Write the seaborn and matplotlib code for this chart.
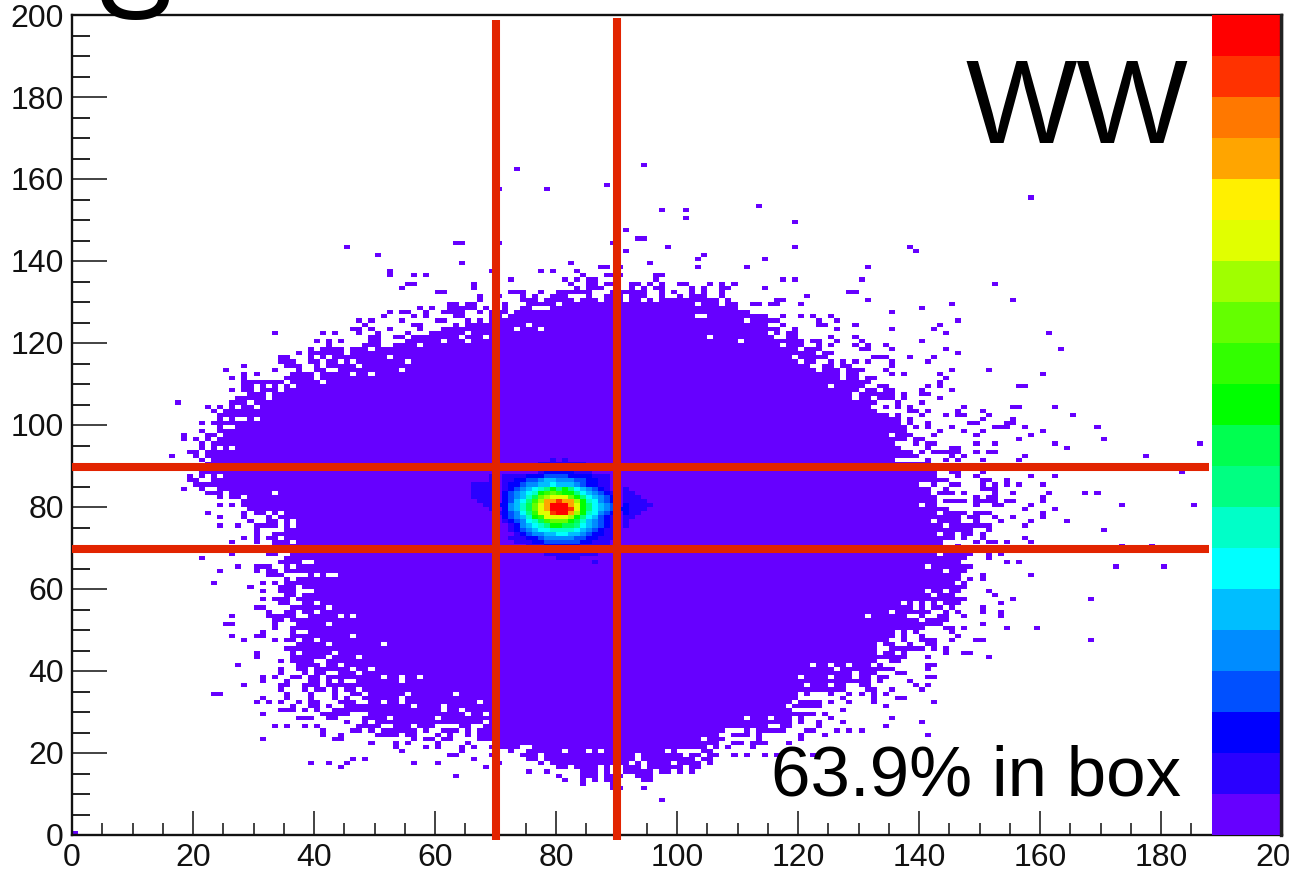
import numpy as np
import pandas as pd
import seaborn as sns
import matplotlib.pyplot as plt
from matplotlib.colors import ListedColormap
from matplotlib.patches import Rectangle
from matplotlib.ticker import MultipleLocator

W, H = 1299, 881

# colz palette, bottom band to top band
band_colors = ['#6600ff', '#2a00ff', '#0000ff', '#0050ff', '#008cff', '#00beff', '#00ffff',
               '#00ffc8', '#00ff82', '#00ff50', '#00ff00', '#32ff00', '#64ff00', '#a0ff00',
               '#e1ff00', '#fff000', '#ffa500', '#ff7800', '#ff3200', '#ff0000']
band_ticks = [4.16, 7.77, 11.38, 14.99, 18.62]

# solid part of the blob, one entry per y bin, from y=125 down to y=22
body_rows = list(range(125, 21, -1))
body_left = [67, 65, 61, 66, 65, 62, 58, 50, 50, 41,
             42, 42, 44, 41, 41, 42, 37, 35, 33, 33,
             30, 31, 25, 24, 24, 23, 27, 24, 25, 24,
             23, 27, 22, 22, 23, 22, 22, 21, 25, 23,
             20, 24, 26, 26, 28, 28, 29, 30, 32, 32,
             30, 35, 33, 32, 33, 33, 34, 36, 35, 34,
             35, 35, 39, 35, 35, 34, 36, 38, 37, 38,
             36, 35, 39, 36, 40, 40, 39, 36, 35, 37,
             35, 36, 36, 42, 42, 40, 40, 42, 42, 42,
             45, 46, 48, 49, 45, 43, 49, 48, 48, 68,
             67, 67, 67, 70]
body_right = [116, 114, 116, 116, 115, 120, 120, 119, 122, 124,
              122, 121, 122, 126, 126, 131, 130, 129, 128, 128,
              132, 131, 132, 134, 136, 136, 137, 137, 138, 137,
              135, 136, 138, 139, 135, 141, 141, 142, 142, 144,
              142, 141, 145, 142, 142, 142, 144, 147, 146, 146,
              151, 148, 145, 145, 143, 143, 143, 148, 147, 146,
              148, 147, 146, 146, 145, 147, 146, 145, 147, 146,
              143, 141, 140, 144, 143, 140, 135, 135, 134, 132,
              132, 132, 133, 132, 133, 135, 128, 128, 128, 120,
              127, 119, 119, 118, 117, 118, 113, 110, 112, 108,
              107, 105, 103, 106]

# loose cells around the blob as (y, first x, last x)
top_runs = [(163, 94, 94), (162, 73, 73), (158, 88, 88), (157, 78, 78), (157, 70, 70), (152, 97, 97),
            (152, 101, 101), (150, 101, 101), (147, 91, 91), (145, 93, 94), (144, 63, 64), (144, 70, 70),
            (144, 89, 89), (143, 98, 98), (143, 45, 45), (142, 91, 91), (141, 50, 50), (141, 104, 104),
            (140, 103, 103), (139, 64, 64), (139, 82, 82), (139, 95, 95), (138, 87, 88), (138, 90, 90),
            (138, 103, 103), (137, 52, 52), (136, 52, 52), (137, 69, 69), (137, 77, 77), (137, 79, 79),
            (137, 83, 83), (136, 56, 56), (136, 58, 58), (136, 84, 84), (136, 88, 90), (136, 96, 97),
            (135, 72, 72), (135, 81, 81), (135, 83, 83), (135, 85, 86), (135, 96, 96), (134, 55, 56),
            (134, 66, 66), (134, 82, 82), (134, 85, 86), (134, 88, 89), (134, 92, 93), (134, 95, 95),
            (134, 97, 97), (134, 100, 101), (134, 105, 105), (134, 107, 107), (134, 109, 109),
            (133, 54, 54), (133, 66, 66), (133, 83, 83), (133, 85, 87), (133, 92, 92), (133, 94, 94),
            (133, 96, 97), (133, 102, 102), (133, 104, 104), (133, 107, 108),
            (132, 60, 61), (132, 72, 74), (132, 77, 77), (132, 80, 85), (132, 89, 94), (132, 97, 97),
            (132, 99, 99), (132, 102, 102), (132, 104, 104), (132, 107, 107),
            (131, 67, 67), (131, 70, 70), (131, 74, 74), (131, 76, 76), (131, 79, 81), (131, 85, 85),
            (131, 88, 90), (131, 92, 94), (131, 97, 97), (131, 100, 100), (131, 102, 104), (131, 107, 107),
            (130, 67, 67), (130, 74, 76), (130, 78, 82), (130, 84, 86), (130, 88, 90), (130, 92, 93),
            (130, 95, 95), (130, 97, 106), (130, 108, 108),
            (129, 62, 63), (129, 65, 66), (129, 71, 71), (129, 75, 79), (129, 81, 102), (129, 104, 106),
            (129, 108, 109),
            (128, 57, 57), (128, 59, 59), (128, 62, 66), (128, 68, 68), (128, 71, 71), (128, 74, 75),
            (128, 79, 109),
            (127, 52, 52), (127, 54, 55), (127, 58, 58), (127, 61, 64), (127, 67, 67), (127, 69, 71),
            (127, 73, 110),
            (126, 51, 51), (126, 56, 56), (126, 58, 58), (126, 63, 64), (126, 69, 70), (126, 72, 102),
            (126, 105, 114)]

left_runs = [(125, 47, 47), (125, 49, 49), (125, 54, 54), (125, 60, 61), (125, 65, 65),
             (124, 48, 48), (124, 56, 57), (124, 63, 63), (123, 46, 47), (123, 49, 49), (123, 52, 52),
             (123, 57, 57), (122, 47, 47), (122, 50, 50), (122, 55, 55), (122, 59, 64), (122, 33, 33),
             (122, 41, 41), (122, 43, 43), (121, 49, 50), (121, 53, 54), (121, 56, 63), (120, 44, 44),
             (120, 49, 50), (120, 55, 60), (120, 40, 40), (120, 42, 42), (119, 42, 42), (119, 48, 50),
             (119, 53, 56), (118, 39, 39), (118, 41, 44), (118, 46, 48), (117, 37, 37), (117, 39, 44),
             (117, 46, 49), (116, 34, 35), (116, 39, 39), (115, 34, 36), (115, 39, 40), (114, 28, 28),
             (114, 35, 37), (114, 40, 40), (113, 25, 25), (113, 33, 33), (113, 37, 37), (113, 40, 41),
             (112, 28, 28), (112, 30, 30), (112, 36, 39), (111, 26, 26), (111, 28, 28), (111, 35, 39),
             (110, 28, 34), (110, 36, 40), (109, 28, 29), (109, 31, 31), (109, 33, 33), (109, 35, 35),
             (108, 26, 26), (108, 28, 29), (108, 31, 33), (107, 29, 31), (106, 27, 31), (105, 17, 17),
             (105, 26, 28), (104, 22, 22), (104, 24, 24), (104, 26, 26), (104, 28, 29), (103, 23, 23),
             (100, 21, 21), (99, 24, 24), (98, 21, 21), (97, 18, 18), (97, 22, 23), (96, 18, 18),
             (96, 20, 20), (96, 22, 22), (95, 21, 21), (94, 21, 21), (94, 23, 23), (94, 25, 25),
             (93, 19, 20), (92, 16, 16), (92, 20, 20), (91, 21, 21), (87, 19, 19), (87, 21, 21),
             (87, 23, 23), (86, 19, 20), (84, 18, 18), (84, 21, 21), (83, 22, 24), (82, 24, 24),
             (80, 24, 24), (80, 26, 26), (78, 22, 22), (78, 28, 28), (77, 24, 24), (77, 28, 28),
             (76, 29, 29), (75, 24, 24), (75, 27, 27), (74, 30, 30), (73, 30, 30), (72, 28, 28),
             (72, 30, 30), (71, 26, 26), (71, 30, 30), (68, 26, 26), (68, 32, 33), (67, 21, 21),
             (65, 27, 27), (65, 30, 32), (64, 24, 24), (64, 30, 30), (64, 32, 33), (63, 32, 34),
             (61, 23, 23), (61, 31, 31), (61, 33, 33), (60, 29, 29), (59, 31, 31), (59, 34, 35),
             (58, 35, 36), (57, 31, 31), (57, 33, 35), (56, 34, 35), (55, 30, 31), (54, 32, 32),
             (53, 26, 26), (53, 32, 36), (52, 33, 34), (51, 25, 26), (51, 33, 33), (51, 37, 39),
             (50, 33, 33), (50, 36, 39), (49, 31, 31), (49, 36, 36), (48, 26, 26), (48, 30, 31),
             (47, 28, 28), (47, 33, 33), (44, 30, 30), (43, 30, 30), (42, 34, 34), (42, 36, 39),
             (41, 27, 27), (41, 37, 40), (40, 34, 34), (40, 37, 38), (39, 34, 34), (39, 38, 38),
             (38, 31, 31), (38, 33, 33), (38, 36, 37), (38, 39, 40), (37, 31, 31), (37, 35, 35),
             (37, 39, 40), (36, 28, 28), (36, 34, 35), (36, 38, 40), (35, 34, 34), (35, 38, 38),
             (35, 40, 41), (35, 43, 43), (34, 23, 24), (34, 35, 35), (34, 39, 39), (34, 43, 43),
             (33, 31, 31), (33, 35, 35), (33, 39, 39), (33, 43, 43), (33, 45, 45), (32, 30, 30),
             (32, 32, 32), (32, 34, 34), (32, 37, 37), (32, 39, 40), (32, 44, 46), (31, 36, 36),
             (31, 39, 40), (31, 42, 42), (30, 34, 36), (30, 38, 38), (30, 40, 40), (29, 31, 31),
             (29, 41, 45), (28, 37, 39), (28, 42, 43), (27, 45, 45)]

bottom_runs = [(26, 33, 33), (26, 35, 35), (26, 38, 38), (26, 40, 40), (26, 47, 50), (26, 53, 55),
               (26, 57, 59), (26, 64, 65), (25, 41, 41), (25, 46, 47), (25, 49, 49), (25, 51, 56),
               (25, 58, 58), (25, 61, 63), (25, 65, 65), (24, 41, 41), (24, 44, 44), (24, 50, 53),
               (24, 55, 56), (24, 60, 60), (24, 62, 62), (24, 65, 65), (23, 31, 31), (23, 43, 44),
               (23, 56, 56), (23, 58, 59), (23, 61, 62), (22, 49, 49), (22, 53, 53), (22, 55, 55),
               (22, 60, 60), (22, 65, 65), (21, 53, 53), (21, 58, 58), (21, 60, 60), (21, 64, 64),
               (21, 66, 66), (20, 54, 54), (20, 64, 64), (19, 62, 63), (18, 46, 46), (18, 48, 48),
               (18, 66, 66), (17, 39, 39), (17, 42, 42), (17, 45, 45), (17, 56, 56), (17, 60, 60),
               (16, 44, 44), (16, 68, 68), (14, 63, 63),
               (22, 109, 110), (22, 112, 114), (22, 118, 118),
               (21, 69, 73), (21, 76, 104), (21, 106, 106), (21, 108, 108), (21, 112, 112),
               (20, 72, 72), (20, 75, 80), (20, 82, 84), (20, 86, 86), (20, 88, 97), (20, 99, 99),
               (20, 104, 105),
               (19, 69, 69), (19, 74, 76), (19, 78, 92), (19, 94, 100), (19, 102, 103), (19, 105, 106),
               (19, 109, 109), (19, 111, 111), (19, 114, 114), (19, 116, 116), (19, 122, 122),
               (18, 75, 76), (18, 78, 92), (18, 94, 102), (18, 104, 105),
               (17, 70, 70), (17, 77, 77), (17, 79, 91), (17, 93, 93), (17, 95, 98), (17, 100, 103),
               (17, 105, 105),
               (16, 80, 81), (16, 83, 86), (16, 88, 88), (16, 91, 93), (16, 95, 100), (16, 102, 103),
               (15, 75, 75), (15, 78, 78), (15, 84, 86), (15, 88, 88), (15, 91, 95), (15, 97, 98),
               (15, 100, 100), (15, 102, 102),
               (14, 80, 80), (14, 84, 86), (14, 88, 90), (14, 93, 95),
               (13, 81, 81), (13, 84, 84), (13, 86, 86), (13, 88, 89), (13, 94, 95),
               (12, 84, 84), (12, 89, 89), (11, 89, 90), (11, 94, 94), (8, 97, 97), (0, 0, 0)]

right_runs = [(155, 158, 158), (153, 113, 113), (149, 119, 119), (143, 119, 119), (143, 138, 138),
              (142, 139, 139), (140, 114, 114), (138, 111, 111), (138, 131, 131), (135, 117, 117),
              (135, 119, 119), (135, 130, 130), (134, 152, 152), (133, 114, 114), (132, 128, 129),
              (131, 121, 121), (130, 116, 117), (130, 131, 131), (130, 155, 155), (129, 112, 113),
              (129, 115, 116), (129, 120, 120), (129, 145, 145), (128, 140, 140), (127, 111, 111),
              (127, 135, 135), (126, 117, 117), (126, 120, 120), (126, 122, 122), (126, 125, 125),
              (125, 123, 123), (125, 126, 126), (125, 146, 146), (124, 117, 117), (124, 123, 124),
              (124, 129, 129), (124, 143, 143), (123, 119, 119), (123, 126, 126), (123, 135, 135),
              (123, 142, 142), (122, 118, 119), (122, 144, 144), (122, 161, 161), (121, 118, 119),
              (121, 125, 125), (121, 129, 129), (120, 122, 123), (120, 126, 126), (120, 130, 130),
              (120, 140, 140), (119, 123, 123), (119, 125, 125), (119, 129, 129), (119, 131, 131),
              (119, 134, 134), (118, 121, 123), (118, 130, 131), (118, 135, 135), (118, 144, 144),
              (118, 163, 163), (117, 124, 125), (117, 146, 146), (116, 132, 134), (116, 138, 138),
              (116, 142, 142), (115, 125, 125), (115, 127, 127), (115, 129, 129), (115, 131, 131),
              (115, 135, 135), (115, 141, 141), (114, 124, 125), (114, 127, 128), (114, 135, 135),
              (113, 124, 126), (113, 128, 130), (113, 134, 134), (113, 145, 145), (113, 151, 151),
              (112, 128, 129), (112, 135, 135), (112, 137, 137), (112, 143, 143), (112, 160, 160),
              (111, 128, 129), (111, 131, 132), (111, 144, 144), (110, 143, 143), (109, 133, 134),
              (109, 141, 141), (109, 143, 143), (109, 156, 157), (108, 131, 132), (108, 134, 135),
              (108, 140, 140), (108, 145, 145), (107, 130, 135), (107, 137, 137), (107, 140, 141),
              (106, 130, 131), (106, 133, 135), (106, 137, 137), (106, 143, 143), (105, 136, 136),
              (105, 140, 140), (104, 134, 134), (104, 136, 136), (104, 138, 138), (104, 147, 147),
              (104, 155, 156), (104, 162, 162), (103, 138, 139), (103, 141, 141), (103, 146, 146),
              (103, 150, 150), (102, 136, 136), (102, 140, 140), (102, 144, 144), (102, 146, 147),
              (102, 151, 151), (102, 165, 165), (101, 138, 138), (101, 150, 150), (101, 155, 155),
              (100, 138, 138), (100, 141, 141), (100, 148, 149), (100, 154, 155), (99, 139, 139),
              (99, 141, 141), (99, 145, 145), (99, 152, 154), (99, 157, 157), (99, 169, 169),
              (98, 143, 143), (98, 147, 147), (98, 150, 150), (98, 160, 160), (97, 142, 142),
              (97, 149, 149), (97, 158, 158), (96, 139, 140), (96, 156, 156), (96, 170, 170),
              (95, 139, 139), (95, 141, 142), (95, 149, 149), (95, 152, 152), (95, 162, 162),
              (95, 186, 186), (94, 141, 141), (94, 145, 146), (94, 164, 164), (93, 140, 140),
              (93, 142, 146), (93, 149, 149), (93, 151, 152), (92, 145, 145), (92, 147, 147),
              (92, 157, 157), (92, 177, 177), (91, 141, 141), (91, 144, 144), (91, 146, 146),
              (91, 150, 150), (91, 156, 156), (88, 145, 146), (88, 150, 150), (88, 183, 183),
              (87, 146, 146), (87, 149, 149), (87, 158, 158), (87, 162, 162), (86, 150, 151),
              (86, 154, 154), (85, 145, 146), (85, 150, 150), (85, 152, 152), (85, 154, 154),
              (85, 156, 156), (85, 160, 160), (84, 144, 144), (84, 150, 152), (83, 147, 147),
              (83, 152, 152), (83, 155, 155), (83, 161, 161), (83, 167, 167), (83, 169, 169),
              (82, 149, 149), (82, 151, 152), (82, 160, 160), (81, 144, 147), (81, 149, 152),
              (81, 154, 155), (81, 160, 160), (80, 149, 149), (80, 152, 153), (80, 158, 158),
              (80, 173, 173), (80, 185, 185), (79, 157, 157), (79, 162, 162), (78, 149, 151),
              (78, 160, 160), (77, 148, 149), (77, 152, 152), (77, 155, 155), (77, 160, 160),
              (76, 149, 149), (76, 153, 153), (76, 158, 158), (76, 164, 164), (75, 157, 157),
              (74, 151, 151), (74, 170, 170), (73, 147, 148), (73, 150, 150), (72, 147, 147),
              (72, 150, 150), (72, 157, 157), (71, 149, 149), (71, 151, 152), (71, 154, 154),
              (71, 158, 158), (70, 146, 146), (70, 173, 173), (70, 178, 178), (68, 151, 151),
              (68, 153, 153), (67, 151, 151), (66, 154, 154), (66, 156, 156), (65, 172, 172),
              (65, 180, 180), (63, 150, 150), (63, 158, 158), (62, 148, 148), (62, 150, 150),
              (61, 147, 147), (59, 151, 151), (58, 152, 152), (57, 155, 155), (57, 168, 168),
              (56, 153, 153), (55, 145, 145), (55, 150, 150), (54, 144, 144), (54, 146, 146),
              (54, 150, 150), (54, 153, 153), (53, 143, 144), (53, 147, 147), (53, 153, 153),
              (51, 150, 150), (50, 144, 145), (50, 147, 147), (50, 154, 154), (50, 159, 159),
              (49, 137, 137), (49, 139, 139), (49, 145, 145), (48, 137, 137), (48, 140, 140),
              (48, 146, 146), (47, 137, 137), (47, 140, 142), (47, 145, 145), (47, 149, 150),
              (47, 168, 168), (46, 134, 135), (46, 138, 138), (46, 141, 142), (45, 135, 140),
              (45, 142, 142), (45, 144, 144), (44, 134, 135), (44, 137, 137), (44, 144, 144),
              (44, 147, 148), (43, 134, 137), (43, 141, 141), (43, 151, 151), (42, 135, 136),
              (41, 141, 142), (40, 141, 141), (39, 130, 132), (39, 136, 137), (38, 130, 131),
              (38, 133, 134), (38, 141, 142), (37, 129, 131), (37, 133, 133), (37, 138, 138),
              (36, 122, 124), (36, 126, 127), (36, 130, 131), (36, 139, 139), (36, 141, 141),
              (35, 131, 132), (35, 135, 135), (35, 140, 140), (34, 121, 121), (34, 125, 125),
              (34, 128, 128), (34, 130, 130), (34, 132, 132), (34, 134, 134), (33, 127, 127),
              (33, 132, 132), (33, 136, 137), (32, 120, 123), (32, 125, 125), (32, 128, 128),
              (32, 132, 132), (32, 142, 142), (31, 119, 123), (31, 134, 134), (30, 127, 127),
              (29, 114, 122), (29, 124, 124), (28, 112, 114), (28, 116, 118), (28, 120, 120),
              (28, 125, 125), (28, 135, 135), (27, 113, 118), (27, 120, 120), (27, 123, 123),
              (27, 127, 127), (27, 140, 140), (26, 109, 114), (26, 117, 118), (26, 123, 123),
              (26, 134, 134), (25, 111, 111), (25, 113, 117), (25, 121, 122), (25, 126, 126),
              (25, 128, 128), (25, 130, 130), (24, 106, 106), (24, 109, 111), (24, 113, 113),
              (24, 120, 120), (24, 124, 124), (24, 141, 141), (23, 105, 107), (23, 113, 113),
              (23, 120, 120)]

# empty bins inside the solid part
hole_x = [83, 84, 87, 92, 98, 108, 105, 103, 104, 73, 77, 75, 105, 68, 65, 110, 68, 64, 61,
          52, 42, 44, 46, 55, 47, 43, 54, 46, 49, 41, 32, 34, 34, 36, 30, 30, 32, 32, 29, 27, 30,
          25, 27, 28, 30, 24, 23, 24, 26, 22, 24, 22, 28, 33, 32, 34, 33, 34, 34, 36, 36, 34, 36,
          38, 39, 36, 40, 42, 43, 36, 37, 37, 38, 39, 37, 40, 42, 37, 40, 44, 46, 42, 39, 39, 46,
          37, 40, 42, 51, 37, 43, 42, 47, 44, 41, 41, 46, 49, 47, 42, 43, 51, 54, 54, 57, 45, 46,
          43, 47, 39, 55, 63, 48, 54, 54, 51, 67, 61, 61, 56, 64, 65, 68, 52, 60, 68, 49, 55, 58,
          111, 115, 110, 117, 120, 119, 120, 125, 123, 135, 142, 140, 141, 142, 140, 143, 142, 144,
          143, 143, 141, 144, 141, 144, 142, 137, 139, 141, 143, 139, 141, 135, 131, 138, 139, 140,
          122, 125, 128, 132, 126, 120, 125, 133, 136, 121, 125, 129]
hole_y = [127, 128, 128, 128, 128, 128, 127, 126, 126, 123, 123, 124, 121, 121, 120, 120, 125, 121, 120,
          116, 116, 115, 115, 115, 114, 113, 113, 112, 112, 110, 109, 109, 108, 109, 109, 108, 107, 106, 105, 104, 104,
          101, 101, 101, 101, 97, 96, 94, 94, 91, 87, 87, 82, 83, 78, 78, 77, 76, 75, 76, 75, 72, 71,
          66, 66, 65, 63, 63, 63, 62, 60, 59, 59, 59, 58, 56, 55, 54, 54, 53, 53, 51, 51, 50, 48,
          47, 47, 46, 46, 44, 44, 43, 43, 41, 42, 41, 40, 40, 39, 39, 39, 38, 38, 37, 38, 37, 37,
          37, 35, 35, 34, 34, 34, 33, 32, 32, 32, 31, 30, 31, 30, 29, 29, 28, 28, 27, 27, 26, 26,
          125, 122, 120, 119, 118, 116, 115, 109, 113, 97, 83, 85, 85, 83, 80, 78, 76, 75,
          73, 68, 65, 64, 59, 59, 58, 56, 56, 56, 56, 55, 55, 54, 53, 53, 53, 52,
          41, 41, 41, 41, 40, 38, 38, 38, 37, 36, 36, 36]

# colour band of each bin in the peak, x from 66 to 96, y from 91 down to 65
core_x_start = 66
core_y_start = 91
core_levels = [
    [1, 1, 1, 1, 1, 1, 1, 1, 1, 1, 1, 1, 1, 2, 1, 2, 1, 1, 1, 1, 1, 1, 1, 1, 1, 1, 1, 1, 1, 1, 1],
    [1, 1, 1, 1, 1, 1, 1, 1, 1, 1, 1, 2, 2, 2, 2, 2, 2, 2, 2, 1, 1, 1, 1, 1, 1, 1, 1, 1, 1, 1, 1],
    [1, 1, 1, 1, 1, 1, 1, 1, 1, 1, 1, 2, 2, 2, 2, 2, 2, 2, 2, 2, 1, 1, 1, 1, 1, 1, 1, 1, 1, 1, 1],
    [1, 1, 1, 1, 1, 1, 1, 1, 1, 1, 1, 2, 3, 3, 3, 3, 3, 2, 2, 2, 1, 1, 1, 1, 1, 1, 1, 1, 1, 1, 1],
    [1, 1, 1, 2, 1, 2, 2, 2, 2, 3, 3, 3, 4, 4, 4, 4, 3, 3, 3, 3, 2, 2, 2, 1, 1, 1, 1, 1, 1, 1, 1],
    [1, 1, 1, 2, 1, 2, 2, 3, 3, 4, 4, 5, 6, 6, 5, 5, 5, 4, 4, 3, 3, 2, 2, 1, 1, 1, 1, 1, 1, 1, 1],
    [2, 2, 2, 2, 1, 2, 3, 3, 4, 5, 5, 6, 6, 7, 6, 6, 6, 5, 4, 3, 3, 2, 2, 1, 1, 1, 1, 1, 1, 1, 1],
    [2, 2, 2, 2, 1, 2, 3, 4, 5, 6, 7, 8, 9, 11, 9, 11, 9, 7, 6, 5, 4, 3, 2, 1, 1, 2, 1, 1, 1, 1, 1],
    [2, 2, 2, 2, 1, 3, 4, 5, 6, 7, 8, 11, 12, 13, 12, 11, 11, 9, 7, 6, 5, 4, 3, 2, 1, 2, 2, 1, 1, 1, 1],
    [2, 2, 2, 2, 1, 3, 4, 5, 6, 8, 10, 13, 14, 15, 15, 15, 13, 11, 9, 7, 6, 5, 4, 3, 1, 2, 2, 2, 1, 1, 1],
    [1, 2, 2, 2, 1, 3, 4, 6, 7, 9, 12, 14, 17, 17, 19, 17, 17, 14, 11, 8, 7, 5, 4, 3, 1, 2, 2, 2, 2, 1, 1],
    [1, 1, 2, 2, 3, 3, 5, 6, 8, 10, 13, 15, 17, 20, 20, 20, 17, 15, 11, 9, 7, 6, 5, 4, 1, 3, 2, 2, 2, 2, 1],
    [1, 1, 1, 2, 1, 3, 5, 6, 8, 10, 13, 15, 17, 20, 20, 20, 19, 15, 11, 9, 7, 6, 5, 4, 3, 3, 2, 2, 2, 1, 1],
    [1, 1, 1, 1, 2, 3, 4, 5, 7, 9, 12, 15, 15, 19, 20, 20, 17, 14, 11, 8, 7, 5, 4, 3, 1, 3, 2, 2, 1, 1, 1],
    [1, 1, 1, 1, 1, 3, 4, 5, 6, 8, 11, 12, 15, 15, 15, 15, 14, 11, 9, 7, 6, 4, 3, 2, 1, 2, 2, 1, 1, 1, 1],
    [1, 1, 1, 1, 1, 2, 3, 4, 5, 7, 8, 10, 12, 13, 13, 13, 11, 10, 8, 6, 5, 4, 3, 2, 1, 2, 1, 1, 1, 1, 1],
    [1, 1, 1, 1, 1, 1, 2, 3, 5, 6, 7, 8, 9, 11, 11, 10, 10, 9, 7, 6, 5, 4, 3, 2, 1, 2, 1, 1, 1, 1, 1],
    [1, 1, 1, 1, 1, 1, 2, 3, 4, 5, 6, 7, 7, 8, 8, 8, 8, 7, 6, 5, 4, 3, 2, 2, 1, 1, 1, 1, 1, 1, 1],
    [1, 1, 1, 1, 1, 1, 1, 2, 3, 4, 5, 5, 6, 6, 7, 7, 6, 6, 5, 4, 3, 3, 2, 2, 1, 1, 1, 1, 1, 1, 1],
    [1, 1, 1, 1, 1, 1, 2, 2, 2, 3, 3, 4, 5, 5, 5, 5, 5, 4, 4, 3, 3, 2, 2, 2, 1, 1, 1, 1, 1, 1, 1],
    [1, 1, 1, 1, 1, 1, 1, 2, 2, 2, 3, 3, 4, 4, 4, 4, 4, 4, 3, 3, 2, 2, 2, 1, 1, 1, 1, 1, 1, 1, 1],
    [1, 1, 1, 1, 1, 1, 1, 1, 1, 2, 2, 2, 3, 3, 3, 3, 3, 3, 2, 2, 2, 2, 2, 1, 1, 1, 1, 1, 1, 1, 1],
    [1, 1, 1, 1, 1, 1, 1, 1, 1, 2, 2, 2, 2, 2, 2, 2, 2, 2, 2, 2, 2, 2, 2, 1, 1, 1, 1, 1, 1, 1, 1],
    [1, 1, 1, 1, 1, 1, 1, 1, 1, 1, 1, 1, 2, 2, 2, 2, 2, 2, 2, 2, 2, 1, 1, 1, 1, 1, 1, 1, 1, 1, 1],
    [1, 1, 1, 1, 1, 1, 1, 1, 1, 1, 1, 1, 1, 1, 2, 2, 2, 2, 1, 1, 1, 1, 1, 1, 1, 1, 1, 1, 1, 1, 1],
    [1, 1, 1, 1, 1, 1, 1, 1, 1, 1, 1, 1, 1, 1, 1, 1, 1, 1, 1, 1, 2, 1, 1, 1, 1, 1, 1, 1, 1, 1, 1],
]

box_x = [70.15, 90.05]
box_y = [69.7, 89.7]
tick_labels = ['0', '20', '40', '60', '80', '100', '120', '140', '160', '180', '200']
tick_values = [0, 20, 40, 60, 80, 100, 120, 140, 160, 180, 200]

# fill the 200x200 histogram
grid = np.full((200, 200), np.nan)
for row, x0, x1 in zip(body_rows, body_left, body_right):
    grid[row, x0:x1 + 1] = 1
for hx, hy in zip(hole_x, hole_y):
    grid[hy, hx] = np.nan
for runs in (top_runs, left_runs, bottom_runs, right_runs):
    for row, x0, x1 in runs:
        grid[row, x0:x1 + 1] = 1
for i, levels in enumerate(core_levels):
    for j, level in enumerate(levels):
        if level > 1:
            grid[core_y_start - i, core_x_start + j] = level
hist = pd.DataFrame(grid)

sns.set_theme(style='ticks')
plt.rcParams['font.family'] = ['Liberation Sans', 'DejaVu Sans']

fig = plt.figure(figsize=(W / 100, H / 100), dpi=100)
ax = fig.add_axes([72 / W, 1 - 835 / H, 1210 / W, 820 / H])
cax = fig.add_axes([1212 / W, 1 - 835 / H, 69 / W, 820 / H])

sns.heatmap(hist, ax=ax, cbar_ax=cax, cmap=ListedColormap(band_colors), vmin=0.5, vmax=20.5,
            xticklabels=False, yticklabels=False)
ax.set_xlim(0, 200)
ax.set_ylim(0, 200)
ax.set_xlabel('')
ax.set_ylabel('')

for spine in ax.spines.values():
    spine.set_visible(True)
    spine.set_color('#111111')
    spine.set_linewidth(1.7)

ax.set_xticks(tick_values)
ax.set_xticklabels(tick_labels)
ax.set_yticks(tick_values)
ax.set_yticklabels(tick_labels)
ax.xaxis.set_minor_locator(MultipleLocator(5))
ax.yaxis.set_minor_locator(MultipleLocator(5))
ax.tick_params(axis='x', which='major', direction='in', length=17, width=1.2, labelsize=23, pad=6,
               color='#222222', labelcolor='#111111', rotation=0)
ax.tick_params(axis='x', which='minor', direction='in', length=8.5, width=1.2, color='#222222')
ax.tick_params(axis='y', which='major', direction='in', length=25, width=1.2, labelsize=23, pad=6,
               color='#222222', labelcolor='#111111', rotation=0)
ax.tick_params(axis='y', which='minor', direction='in', length=13, width=1.4, color='#222222')

cbar = ax.collections[0].colorbar
cbar.set_ticks(band_ticks)
cbar.outline.set_visible(False)
cax.yaxis.set_ticks_position('right')
cax.minorticks_off()
cax.tick_params(axis='y', direction='in', length=26, width=1.2, color='black', labelright=False)
cax.spines['right'].set_visible(True)
cax.spines['right'].set_color('#222222')
cax.spines['right'].set_linewidth(2.4)

# box lines, a little past the frame like the hand drawn ones
line_red = '#e22400'
ax.plot([box_x[0], box_x[0]], [-1.2, 198.8], color=line_red, lw=5.8, clip_on=False, solid_capstyle='butt', zorder=5)
ax.plot([box_x[1], box_x[1]], [-1.2, 199.3], color=line_red, lw=5.8, clip_on=False, solid_capstyle='butt', zorder=5)
ax.plot([0, 188], [box_y[0], box_y[0]], color=line_red, lw=5.8, solid_capstyle='butt', zorder=5)
ax.plot([0, 188], [box_y[1], box_y[1]], color=line_red, lw=5.8, solid_capstyle='butt', zorder=5)

fig.text(965 / W, 1 - 143 / H, 'WW', fontsize=85, color='black', zorder=20)
fig.text(771 / W, 1 - 795 / H, '63.9% in box', fontsize=51, color='black', zorder=20)
# letter cut off by the top of the picture
fig.text(135 / W, 1 - 19 / H, 'S', fontsize=85, color='black', ha='center', zorder=20)

# picture is cropped just after the colour bar
fig.add_artist(Rectangle((1289 / W, 0), 10 / W, 1, transform=fig.transFigure, color='white', zorder=30))

fig.savefig('out.png', dpi=100)
